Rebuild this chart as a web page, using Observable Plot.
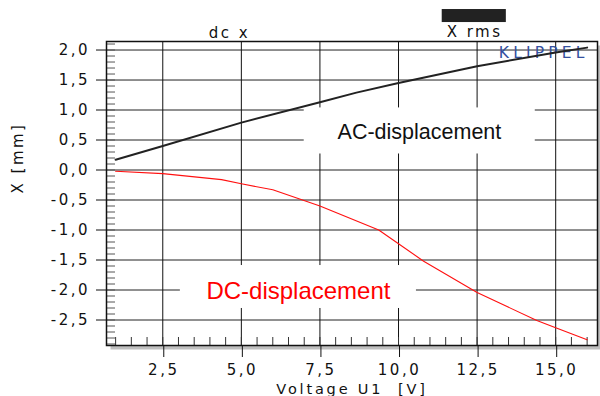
<!DOCTYPE html>
<html><head><meta charset="utf-8">
<script src="https://cdn.jsdelivr.net/npm/d3@7"></script>
<script src="https://cdn.jsdelivr.net/npm/@observablehq/plot@0.6"></script>
<style>
html,body{margin:0;padding:0;background:#fff;}
#chart svg{display:block;}
</style>
</head><body><div id="chart"></div>
<script>
// AC displacement (X rms)
const acVoltage = [1, 2.5, 5, 7.5, 8.66, 10, 12.5, 15, 16];
const acX       = [0.17, 0.40, 0.79, 1.13, 1.29, 1.45, 1.73, 1.96, 2.04];
// DC displacement (dc x)
const dcVoltage = [1, 2.5, 4.37, 5, 6.0, 7.5, 9.37, 10, 10.8, 12.5, 14.4, 15, 16];
const dcX       = [-0.02, -0.06, -0.16, -0.23, -0.33, -0.60, -1.0, -1.23, -1.52, -2.04, -2.51, -2.63, -2.83];

const xTicks = [2.5, 5, 7.5, 10, 12.5, 15];
const yTicks = [-2.5, -2, -1.5, -1, -0.5, 0, 0.5, 1, 1.5, 2];
const xMinorTicks = d3.range(2, 33).map(d => d / 2);          // every 0.5 V
const yMinorTicks = d3.range(-29, 22).map(d => d / 10);       // every 0.1 mm
const xLabel = "Voltage U1\u00a0\u00a0[V]";
const yLabel = "X [mm]";
const legendLabels = ["dc x", "X rms"];
const curveLabels = ["AC-displacement", "DC-displacement"];
const brandLabel = "KLIPPEL";

const ac = acVoltage.map((v, i) => ({v, x: acX[i]}));
const dc = dcVoltage.map((v, i) => ({v, x: dcX[i]}));

const W = 600, H = 396, mL = 106, mR = 3, mT = 41, mB = 51;
const innerW = W - mL - mR, innerH = H - mT - mB;
const xDomain = [0.71, 16.33];
const yDomain = [-2.925, 2.142];
const fmt = d => d.toFixed(1).replace(".", ",");
const tickFont = "DejaVu Sans";

const chart = Plot.plot({
  width: W, height: H,
  marginLeft: mL, marginRight: mR, marginTop: mT, marginBottom: mB,
  x: {domain: xDomain},
  y: {domain: yDomain},
  style: {fontFamily: tickFont, fontSize: "15px", color: "#111", background: "white"},
  marks: [
    // drop shadow and plot area
    Plot.frame({fill: "#bfbfbf", stroke: null, dx: 4, dy: 4}),
    Plot.frame({fill: "white", stroke: null}),
    // grid
    Plot.ruleY(yTicks, {stroke: "#222", strokeWidth: 1}),
    Plot.ruleX(xTicks, {stroke: "#111", strokeWidth: 1}),
    // minor ticks inside
    Plot.tickY(yMinorTicks, {stroke: "#555", insetRight: innerW - 9}),
    Plot.tickX(xMinorTicks, {stroke: "#333", insetTop: innerH - 8}),
    // label boxes (cover grid)
    Plot.rect([0], {x1: 7.0, x2: 14.35, y1: 0.267, y2: 1.035, fill: "white"}),
    Plot.rect([0], {x1: 3.06, x2: 10.57, y1: -2.308, y2: -1.592, fill: "white"}),
    // brand
    Plot.text([brandLabel], {x: 16.05, y: 1.875, textAnchor: "end", lineAnchor: "bottom",
      fill: "#34509f", fontSize: 15.5, fontFamily: tickFont}),
    // curves
    Plot.line(dc, {x: "v", y: "x", stroke: "#ff1010", strokeWidth: 1.1}),
    Plot.line(ac, {x: "v", y: "x", stroke: "#222", strokeWidth: 2}),
    // curve labels
    Plot.text([curveLabels[0]], {x: 10.665, y: 0.52, lineAnchor: "bottom", fill: "#111",
      fontSize: 21.5, fontFamily: "Liberation Sans"}),
    Plot.text([curveLabels[1]], {x: 6.816, y: -2.147, lineAnchor: "bottom", fill: "#ff0000",
      fontSize: 24, fontFamily: "Liberation Sans"}),
    // legend on top
    Plot.text([legendLabels[0]], {x: 4.62, frameAnchor: "top", dy: -4, lineAnchor: "bottom", fontSize: 15}),
    Plot.text([legendLabels[1]], {x: 12.42, frameAnchor: "top", dy: -4.5, lineAnchor: "bottom", fontSize: 15}),
    Plot.rect([0], {x1: 11.39, x2: 13.43, y1: 2.458, y2: 2.675, fill: "#222"}),
    // frame
    Plot.frame({stroke: "#111", strokeWidth: 1.5}),
    // axes
    Plot.axisY(yTicks, {anchor: "left", tickSize: 10, tickPadding: 6.5, tickFormat: fmt,
      fontSize: 15, fontFamily: tickFont, label: null}),
    Plot.axisX(xTicks, {anchor: "bottom", tickSize: 12, tickPadding: 7, tickFormat: fmt,
      fontSize: 15, fontFamily: tickFont, label: null, dx: 1}),
    // axis titles
    Plot.text([xLabel], {frameAnchor: "bottom", dy: 48, lineAnchor: "bottom", fontSize: 14.5, fontFamily: tickFont}),
    Plot.text([yLabel], {frameAnchor: "left", dx: -88.5, rotate: -90, fontSize: 15, fontFamily: tickFont})
  ]
});

d3.select(chart).selectAll("text").each(function() {
  const t = this.textContent;
  if (curveLabels.includes(t)) d3.select(this).style("letter-spacing", "0px");
  else if (t === brandLabel) d3.select(this).style("letter-spacing", "4.2px");
  else if (t === xLabel) d3.select(this).style("letter-spacing", "2.8px");
  else d3.select(this).style("letter-spacing", "2.5px");
});

document.getElementById("chart").appendChild(chart);
</script>
</body></html>
